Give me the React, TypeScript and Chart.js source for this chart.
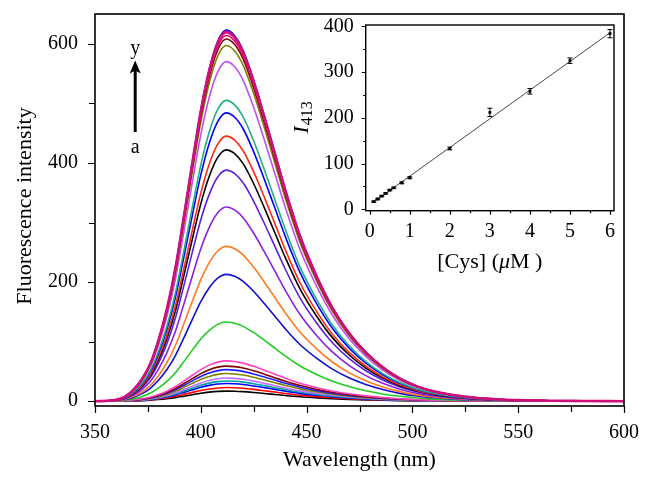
import React, { useEffect, useRef } from "react";
import { Chart, registerables } from "chart.js";
Chart.register(...registerables);

// ---------- main spectra data ----------
const wavelengths = [350, 355, 360, 364, 368, 372, 376, 380, 384, 388, 392, 396, 400, 404, 408, 412, 416, 420, 425, 430, 435, 440, 447, 455, 462, 470, 478, 486, 494, 502, 510, 520, 530, 540, 550, 565, 580, 600];
const profile = [0, 0.001, 0.004, 0.012, 0.03, 0.058, 0.1, 0.165, 0.25, 0.36, 0.5, 0.645, 0.785, 0.895, 0.97, 1.0, 0.985, 0.945, 0.865, 0.77, 0.67, 0.57, 0.445, 0.335, 0.255, 0.185, 0.132, 0.092, 0.062, 0.041, 0.027, 0.016, 0.0095, 0.0055, 0.0032, 0.0015, 0.0007, 0];
const curveLabels = ["a", "b", "c", "d", "e", "f", "g", "h", "i", "j", "k", "l", "m", "n", "o", "p", "q", "r", "s", "t", "u", "v", "w", "x", "y"];
const peakIntensities = [17, 23, 29.7, 34, 39, 46.5, 53, 59, 67.7, 133, 213, 260, 326, 388, 422, 445, 484, 505, 570, 597, 608, 614, 618, 623, 620];
const curveColors = ["#000000", "#ff0000", "#0000ff", "#00a0a0", "#c070ff", "#808000", "#2020ff", "#800000", "#ff40c0", "#22cc22", "#1010d0", "#ff7a20", "#8a20e0", "#5a20e0", "#000000", "#ff2a10", "#0000ff", "#20b080", "#c050f0", "#808000", "#800000", "#e00060", "#ff60d0", "#0000ff", "#d0107a"];

const mainXMajor = [350, 400, 450, 500, 550, 600];
const mainXMinor = [375, 425, 475, 525, 575];
const mainYMajor = [0, 200, 400, 600];
const mainYMinor = [100, 300, 500];

// ---------- inset data ----------
const concentrations = [0.1, 0.2, 0.3, 0.4, 0.5, 0.6, 0.8, 1, 2, 3, 4, 5, 6];
const i413 = [16.8, 22.6, 29, 35, 42, 47, 58, 69, 133, 212, 258, 325, 384];
const i413Err = [1.5, 1.5, 1.5, 1.5, 1.5, 1.5, 2, 2, 3, 9, 6, 6, 9];
const fitX = [0.1, 6];
const fitY = [16, 386];

const insetXMajor = [0, 1, 2, 3, 4, 5, 6];
const insetXMinor = [0.5, 1.5, 2.5, 3.5, 4.5, 5.5];
const insetYMajor = [0, 100, 200, 300, 400];
const insetYMinor = [50, 150, 250, 350];

const FONT = "'Liberation Serif', 'Times New Roman', serif";

function drawAxisTicks(ctx: CanvasRenderingContext2D, chart: any, xMaj: number[], xMin: number[], yMaj: number[], yMin: number[], majLen: number, minLen: number) {
  const { left, bottom } = chart.chartArea;
  const xs = chart.scales.x;
  const ys = chart.scales.y;
  ctx.save();
  ctx.strokeStyle = "#000";
  ctx.lineWidth = 1.2;
  ctx.beginPath();
  xMaj.forEach((v) => { const p = Math.round(xs.getPixelForValue(v)) + 0.5; ctx.moveTo(p, bottom); ctx.lineTo(p, bottom + majLen); });
  xMin.forEach((v) => { const p = Math.round(xs.getPixelForValue(v)) + 0.5; ctx.moveTo(p, bottom); ctx.lineTo(p, bottom + minLen); });
  yMaj.forEach((v) => { const p = Math.round(ys.getPixelForValue(v)) + 0.5; ctx.moveTo(left, p); ctx.lineTo(left - majLen, p); });
  yMin.forEach((v) => { const p = Math.round(ys.getPixelForValue(v)) + 0.5; ctx.moveTo(left, p); ctx.lineTo(left - minLen, p); });
  ctx.stroke();
  ctx.restore();
}

function drawFrame(ctx: CanvasRenderingContext2D, chart: any, lw: number) {
  const { left, right, top, bottom } = chart.chartArea;
  ctx.save();
  ctx.strokeStyle = "#000";
  ctx.lineWidth = lw;
  ctx.strokeRect(left, top, right - left, bottom - top);
  ctx.restore();
}

function noPad(s: any) {
  s.paddingTop = 0;
  s.paddingBottom = 0;
  s.paddingLeft = 0;
  s.paddingRight = 0;
}

const mainDecor = {
  id: "mainDecor",
  afterDraw(chart: any) {
    const ctx = chart.ctx as CanvasRenderingContext2D;
    const { left, right, top, bottom } = chart.chartArea;
    drawFrame(ctx, chart, 1.6);
    drawAxisTicks(ctx, chart, mainXMajor, mainXMinor, mainYMajor, mainYMinor, 7, 6);
    ctx.save();
    ctx.fillStyle = "#000";
    ctx.font = `22px ${FONT}`;
    ctx.textAlign = "center";
    ctx.textBaseline = "middle";
    ctx.fillText("Wavelength (nm)", (left + right) / 2, 460);
    ctx.save();
    ctx.translate(25, (top + bottom) / 2 - 4);
    ctx.rotate(-Math.PI / 2);
    ctx.fillText("Fluorescence intensity", 0, 0);
    ctx.restore();
    // arrow annotation
    const xs = chart.scales.x;
    const ys = chart.scales.y;
    const ax = xs.getPixelForValue(369);
    ctx.font = `20px ${FONT}`;
    ctx.fillText(curveLabels[curveLabels.length - 1], ax, ys.getPixelForValue(592));
    ctx.fillText(curveLabels[0], ax, ys.getPixelForValue(425));
    const tipY = ys.getPixelForValue(572);
    const baseY = ys.getPixelForValue(452);
    ctx.strokeStyle = "#000";
    ctx.lineWidth = 3;
    ctx.beginPath();
    ctx.moveTo(ax, baseY);
    ctx.lineTo(ax, tipY + 8);
    ctx.stroke();
    ctx.beginPath();
    ctx.moveTo(ax, tipY);
    ctx.lineTo(ax - 5.5, tipY + 13);
    ctx.lineTo(ax, tipY + 10);
    ctx.lineTo(ax + 5.5, tipY + 13);
    ctx.closePath();
    ctx.fill();
    ctx.restore();
  },
};

const insetDecor = {
  id: "insetDecor",
  afterDatasetsDraw(chart: any) {
    const ctx = chart.ctx as CanvasRenderingContext2D;
    const xs = chart.scales.x;
    const ys = chart.scales.y;
    ctx.save();
    ctx.strokeStyle = "#000";
    ctx.lineWidth = 1;
    concentrations.forEach((c, i) => {
      const px = xs.getPixelForValue(c);
      const y1 = ys.getPixelForValue(i413[i] - i413Err[i]);
      const y2 = ys.getPixelForValue(i413[i] + i413Err[i]);
      ctx.beginPath();
      ctx.moveTo(px, y1); ctx.lineTo(px, y2);
      ctx.moveTo(px - 2.5, y1); ctx.lineTo(px + 2.5, y1);
      ctx.moveTo(px - 2.5, y2); ctx.lineTo(px + 2.5, y2);
      ctx.stroke();
    });
    ctx.restore();
  },
  afterDraw(chart: any) {
    const ctx = chart.ctx as CanvasRenderingContext2D;
    const { left, right, top, bottom } = chart.chartArea;
    drawFrame(ctx, chart, 1.4);
    drawAxisTicks(ctx, chart, insetXMajor, insetXMinor, insetYMajor, insetYMinor, 4, 2.5);
    ctx.save();
    ctx.fillStyle = "#000";
    ctx.textBaseline = "middle";
    // x title: [Cys] (μM )
    const parts = [
      { t: "[Cys] (", f: `22px ${FONT}` },
      { t: "\u03bc", f: `italic 22px ${FONT}` },
      { t: "M )", f: `22px ${FONT}` },
    ];
    let total = 0;
    parts.forEach((p) => { ctx.font = p.f; total += ctx.measureText(p.t).width; });
    let x = (left + right) / 2 - total / 2;
    ctx.textAlign = "left";
    parts.forEach((p) => { ctx.font = p.f; ctx.fillText(p.t, x, 262); x += ctx.measureText(p.t).width; });
    // y title: I_413
    ctx.save();
    ctx.translate(302, (top + bottom) / 2);
    ctx.rotate(-Math.PI / 2);
    ctx.font = `italic 22px ${FONT}`;
    const wI = ctx.measureText("I").width;
    ctx.font = `16px ${FONT}`;
    const wS = ctx.measureText("413").width;
    const start = -(wI + wS) / 2;
    ctx.font = `italic 22px ${FONT}`;
    ctx.fillText("I", start, 0);
    ctx.font = `16px ${FONT}`;
    ctx.fillText("413", start + wI + 1, 6);
    ctx.restore();
    ctx.restore();
  },
};

export default function App() {
  const mainRef = useRef<HTMLCanvasElement>(null);
  const insetRef = useRef<HTMLCanvasElement>(null);

  useEffect(() => {
    const datasets = peakIntensities.map((pk, i) => ({
      label: curveLabels[i],
      data: wavelengths.map((w, j) => ({ x: w, y: profile[j] * pk })),
      borderColor: curveColors[i],
      borderWidth: i === peakIntensities.length - 1 ? 2.6 : 1.6,
      pointRadius: 0,
      fill: false,
      cubicInterpolationMode: "monotone" as const,
      order: peakIntensities.length - i,
    }));
    const tickFont = { family: FONT, size: 20 };
    const main = new Chart(mainRef.current as HTMLCanvasElement, {
      type: "line",
      data: { datasets },
      options: {
        animation: false,
        responsive: false,
        events: [],
        layout: { padding: { left: 0, right: 29, top: 14, bottom: 0 } },
        plugins: { legend: { display: false }, tooltip: { enabled: false } },
        scales: {
          x: {
            type: "linear", min: 350, max: 600,
            afterBuildTicks: (s: any) => { s.ticks = mainXMajor.map((v) => ({ value: v })); },
            afterFit: (s: any) => { s.height = 80; noPad(s); },
            grid: { display: false, drawTicks: false, tickLength: 0 },
            border: { display: false },
            ticks: { padding: 15, color: "#000", font: tickFont, maxRotation: 0, autoSkip: false },
          },
          y: {
            type: "linear", min: -8, max: 650,
            afterBuildTicks: (s: any) => { s.ticks = mainYMajor.map((v) => ({ value: v })); },
            afterFit: (s: any) => { s.width = 95; noPad(s); },
            grid: { display: false, drawTicks: false, tickLength: 0 },
            border: { display: false },
            ticks: { padding: 17, color: "#000", font: tickFont, autoSkip: false },
          },
        },
      },
      plugins: [mainDecor],
    });

    const inset = new Chart(insetRef.current as HTMLCanvasElement, {
      type: "scatter",
      data: {
        datasets: [
          {
            type: "line",
            data: fitX.map((x, i) => ({ x, y: fitY[i] })),
            borderColor: "#333",
            borderWidth: 0.9,
            pointRadius: 0,
            order: 2,
          } as any,
          {
            data: concentrations.map((c, i) => ({ x: c, y: i413[i] })),
            backgroundColor: "#000",
            borderColor: "#000",
            pointStyle: "rect",
            pointRadius: 2,
            borderWidth: 0,
            order: 1,
          },
        ],
      },
      options: {
        animation: false,
        responsive: false,
        events: [],
        layout: { padding: { left: 305.7, right: 39, top: 25, bottom: 235.3 } },
        plugins: { legend: { display: false }, tooltip: { enabled: false } },
        scales: {
          x: {
            type: "linear", min: -0.1, max: 6.1,
            afterBuildTicks: (s: any) => { s.ticks = insetXMajor.map((v) => ({ value: v })); },
            afterFit: (s: any) => { s.height = 40; noPad(s); },
            grid: { display: false, drawTicks: false, tickLength: 0 },
            border: { display: false },
            ticks: { padding: 9, color: "#000", font: tickFont, maxRotation: 0, autoSkip: false },
          },
          y: {
            type: "linear", min: -3, max: 403,
            afterBuildTicks: (s: any) => { s.ticks = insetYMajor.map((v) => ({ value: v })); },
            afterFit: (s: any) => { s.width = 60; noPad(s); },
            grid: { display: false, drawTicks: false, tickLength: 0 },
            border: { display: false },
            ticks: { padding: 12, color: "#000", font: tickFont, autoSkip: false },
          },
        },
      },
      plugins: [insetDecor],
    });

    return () => {
      main.destroy();
      inset.destroy();
    };
  }, []);

  return (
    <div style={{ position: "fixed", left: 0, top: 0, width: 653, height: 486, background: "#fff" }}>
      <canvas ref={mainRef} width={653} height={486} style={{ position: "absolute", left: 0, top: 0 }} />
      <canvas ref={insetRef} width={653} height={486} style={{ position: "absolute", left: 0, top: 0 }} />
    </div>
  );
}
